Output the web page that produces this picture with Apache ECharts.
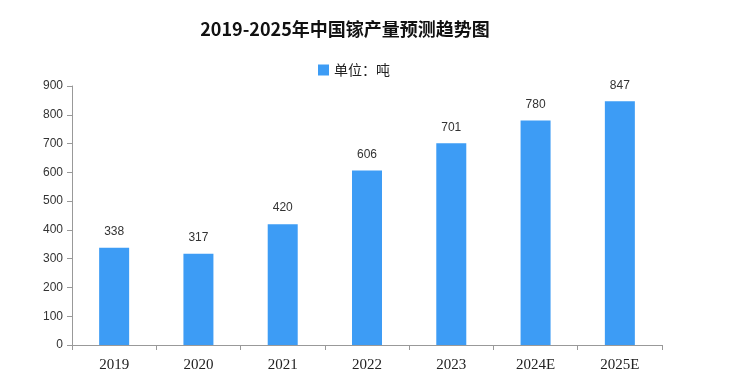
<!DOCTYPE html>
<html><head><meta charset="utf-8">
<script src="https://cdn.jsdelivr.net/npm/echarts@6/dist/echarts.min.js"></script>
<style>html,body{margin:0;padding:0;background:#fff}#c{width:741px;height:381px}</style>
</head><body><div id="c"></div>
<script>
const categories = ['2019','2020','2021','2022','2023','2024E','2025E'];
const values = [338,317,420,606,701,780,847];
const seriesName = '单位：吨';
const titleText = '2019-2025年中国镓产量预测趋势图';
const chart = echarts.init(document.getElementById('c'));
chart.setOption({
  animation:false,
  backgroundColor:'#fff',
  title:{text:titleText,left:340,top:15,textAlign:'center',textStyle:{fontSize:18,fontWeight:'bold',color:'#111',fontFamily:'Noto Sans CJK SC'}},
  legend:{data:[{name:seriesName,icon:'rect'}],left:313,top:58,itemWidth:11,itemHeight:11,itemGap:6,textStyle:{fontSize:14,color:'#222',fontFamily:'Noto Sans CJK SC'}},
  grid:{left:72,right:79,top:86,bottom:36},
  xAxis:{type:'category',data:categories,
    axisLine:{lineStyle:{color:'#999'}},
    axisTick:{show:true,length:5,lineStyle:{color:'#999'}},
    axisLabel:{color:'#222',fontSize:15,margin:13,fontFamily:'Liberation Serif'}},
  yAxis:{type:'value',min:0,max:900,interval:100,
    axisLine:{show:true,lineStyle:{color:'#999'}},
    axisTick:{show:true,length:5,lineStyle:{color:'#999'}},
    splitLine:{show:false},
    axisLabel:{color:'#333',fontSize:12,margin:9,fontFamily:'Liberation Sans'}},
  series:[{name:seriesName,type:'bar',data:values,barWidth:30,
    itemStyle:{color:'#3d9cf5'},
    label:{show:true,position:'top',distance:10,color:'#333',fontSize:12,fontFamily:'Liberation Sans'}}]
});
</script></body></html>
